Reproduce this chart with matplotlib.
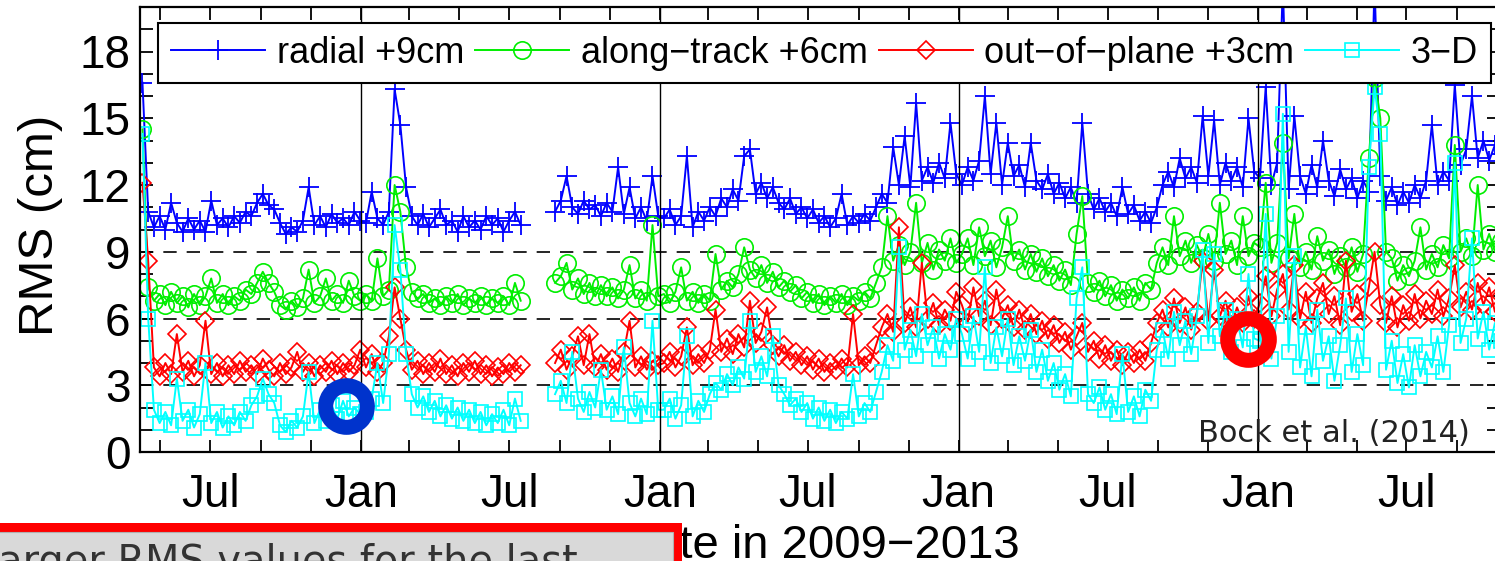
import numpy as np
import pandas as pd
import matplotlib
matplotlib.use('Agg')
import matplotlib.pyplot as plt
import matplotlib.dates as mdates
from matplotlib.patches import Rectangle

NA = np.nan

# weekly samples of the orbit RMS (cm), first sample 9 Apr 2009
dates = pd.date_range('2009-04-09', periods=238, freq='7D')

radial = [
    # 2009
    16.6, 10.8, 10.1, 10.6, 10.0, 11.2, 10.3, 9.9, 10.5, 10.0, 10.4, 9.9, 11.3,
    10.2, 10.5, 10.1, 10.6, 10.3, 10.8, 10.6, 11.2, 11.6, 11.1, 10.9, 10.3, 9.8,
    10.1, 9.9, 10.4, 11.9, 10.2, 10.6, 10.1, 10.7, 10.3, 10.5, 10.2, 10.8, 10.4,
    # 2010
    10.3, 11.7, 10.5, 10.2, 10.8, 16.3, 14.7, 11.9, 10.6, 10.2, 10.7, 10.1, 10.5,
    10.9, 10.2, 10.4, 9.9, 10.6, 10.1, 10.4, 10.0, 10.6, 10.2, 10.5, 9.9, 10.4,
    10.8, 10.2, NA, NA, NA, NA, NA,
    10.8, 11.3, 12.4, 11.0, 10.7, 11.3, 10.9, 11.1, 10.6, 11.2, 10.8, 12.8, 10.7,
    11.9, 10.5, 11.0, 10.4, 12.4, 10.6,
    # 2011
    10.5, 10.9, 10.2, 10.6, 13.3, 10.1, 10.8, 10.4, 11.0, 10.6, 11.4, 11.0, 11.8,
    11.3, 13.3, 13.6, 11.6, 12.1, 11.4, 11.9, 11.2, 10.9, 11.4, 10.7, 11.0, 10.5,
    10.9, 10.3, 10.6, 10.1, 10.5, 11.6, 10.2, 10.6, 10.3, 10.7, 10.4, 11.0, 11.6,
    11.2, 13.7, 12.0, 14.2, 11.9, 15.7, 12.2, 12.8, 12.1, 13.0, 12.3, 14.8, 12.5,
    # 2012
    12.0, 12.8, 12.2, 13.1, 16.0, 12.5, 14.8, 12.0, 13.9, 12.4, 12.9, 11.9, 13.9,
    12.2, 11.8, 12.5, 11.6, 12.1, 11.4, 11.9, 11.2, 14.8, 11.6, 10.9, 11.4, 10.8,
    11.2, 10.6, 11.9, 10.7, 11.1, 10.4, 10.8, 10.3, 11.0, 12.0, 12.6, 11.9, 13.2,
    12.3, 12.8, 12.1, 15.1, 12.4, 14.9, 12.0, 13.0, 12.2, 12.8, 11.9, 15.0, 12.6,
    # 2013
    12.3, 16.4, 12.0, 13.0, 21.0, 11.8, 15.1, 12.4, 11.6, 12.9, 11.9, 14.0, 12.2,
    11.5, 12.7, 11.8, 12.3, 11.4, 12.2, 11.7, 21.0, 12.4, 11.3, 11.9, 11.1, 11.7,
    11.2, 12.0, 11.4, 12.2, 14.7, 12.0, 12.6, 12.2, 16.5, 12.9, 13.6, 16.0, 13.2,
    14.0, 13.1, 13.8, 13.4,
]

along_track = [
    # 2009
    14.5, 7.4, 6.8, 7.1, 6.6, 7.2, 6.7, 7.0, 6.5, 7.1, 6.6, 7.0, 7.8,
    6.7, 7.1, 6.6, 7.0, 6.8, 7.3, 7.1, 7.6, 8.1, 7.6, 7.2, 6.6, 6.4,
    6.8, 6.5, 6.9, 8.2, 6.7, 7.0, 7.8, 6.8, 7.1, 6.7, 7.7, 7.0, 6.8,
    # 2010
    7.1, 6.8, 8.7, 7.0, 7.3, 12.0, 10.8, 8.3, 7.2, 6.9, 7.1, 6.7, 6.9,
    6.6, 7.0, 6.7, 7.1, 6.6, 6.9, 6.7, 7.0, 6.6, 6.9, 6.7, 7.0, 6.6,
    7.6, 6.8, NA, NA, NA, NA, NA,
    7.6, 7.9, 8.5, 7.3, 7.8, 7.1, 7.6, 7.0, 7.5, 7.0, 7.4, 6.9, 7.3,
    8.4, 6.9, 7.3, 6.8, 10.2, 7.0,
    # 2011
    7.1, 6.7, 7.2, 8.3, 6.8, 7.2, 6.7, 7.1, 6.8, 8.9, 7.3, 7.7, 7.4,
    8.0, 9.2, 8.2, 7.8, 8.4, 7.6, 8.1, 7.4, 7.7, 7.2, 7.5, 6.9, 7.2,
    6.7, 7.1, 6.6, 7.0, 6.7, 7.1, 6.6, 7.0, 6.8, 7.2, 6.9, 7.6, 8.3,
    10.6, 8.6, 9.3, 8.4, 9.0, 11.2, 8.5, 9.4, 8.2, 9.1, 8.6, 9.6, 8.5,
    # 2012
    8.9, 9.6, 8.4, 10.1, 8.8, 9.5, 8.3, 9.2, 10.6, 8.6, 9.1, 8.2, 8.9,
    8.1, 8.7, 7.9, 8.4, 7.7, 8.2, 7.5, 9.8, 11.5, 7.6, 7.2, 7.7, 7.0,
    7.5, 6.8, 7.3, 6.9, 7.4, 6.8, 7.6, 7.3, 8.5, 9.2, 8.4, 10.6, 8.8,
    9.5, 8.5, 9.3, 8.7, 9.8, 8.6, 11.2, 8.9, 9.5, 8.4, 10.6, 8.8, 9.4,
    # 2013
    9.2, 12.1, 8.5, 9.4, 13.9, 8.7, 10.7, 8.3, 9.0, 8.2, 9.7, 8.6, 9.1,
    8.0, 8.8, 8.3, 9.2, 8.1, 8.9, 13.2, 16.8, 15.0, 9.0, 8.7, 7.7, 8.4,
    7.9, 8.6, 10.1, 8.2, 8.9, 8.3, 9.3, 8.7, 13.8, 9.0, 9.6, 8.8, 12.0,
    9.1, 9.8, 9.0, 9.5,
]

out_of_plane = [
    # 2009
    12.1, 8.6, 3.8, 3.4, 4.0, 3.5, 5.3, 3.6, 4.1, 3.4, 3.9, 5.9, 3.5,
    4.0, 3.4, 3.9, 3.5, 4.1, 3.6, 3.9, 3.5, 4.2, 3.7, 3.4, 4.0, 3.5,
    3.8, 4.5, 3.6, 4.0, 3.4, 3.9, 3.6, 4.1, 3.5, 4.0, 3.6, 3.9, 4.6,
    # 2010
    3.8, 4.4, 3.6, 4.0, 5.2, 7.4, 6.0, 4.6, 3.7, 4.1, 3.5, 4.0, 3.6,
    4.2, 3.5, 3.9, 3.4, 4.0, 3.6, 4.1, 3.5, 3.9, 3.4, 3.8, 3.5, 4.0,
    3.6, 3.9, NA, NA, NA, NA, NA,
    4.0, 4.6, 3.7, 4.3, 5.2, 3.9, 5.3, 3.8, 4.4, 3.7, 4.2, 3.6, 4.5,
    5.9, 3.8, 4.3, 3.7, 4.1, 3.9,
    # 2011
    4.0, 4.5, 3.8, 4.3, 5.6, 3.9, 4.4, 4.0, 4.6, 6.4, 4.5, 5.1, 4.4,
    5.3, 4.7, 6.8, 4.9, 5.4, 6.5, 4.8, 4.3, 4.8, 4.1, 4.5, 3.9, 4.3,
    3.7, 4.2, 3.6, 4.0, 3.7, 4.2, 3.8, 6.2, 3.9, 4.3, 4.0, 4.8, 5.6,
    6.2, 5.4, 10.1, 5.8, 6.5, 5.6, 8.5, 6.0, 6.7, 5.7, 6.4, 5.9, 7.2,
    # 2012
    6.6, 5.8, 7.4, 6.1, 6.8, 5.7, 7.3, 6.0, 6.6, 5.6, 6.4, 5.5, 6.2,
    5.3, 5.9, 5.1, 5.7, 4.9, 5.4, 4.6, 5.2, 5.8, 4.5, 5.0, 4.2, 4.8,
    4.1, 4.6, 3.9, 4.5, 4.0, 4.6, 4.1, 4.9, 5.8, 6.4, 5.6, 6.9, 5.8,
    6.5, 5.5, 6.3, 8.6, 5.9, 8.2, 6.1, 6.8, 5.7, 6.5, 5.8, 7.0, 6.0,
    # 2013
    6.7, 7.9, 6.1, 7.3, 8.0, 6.4, 8.4, 6.0, 7.2, 5.8, 6.9, 7.6, 6.2,
    7.0, 5.7, 8.6, 6.3, 7.1, 5.9, 7.4, 9.0, 6.6, 5.8, 7.0, 5.6, 6.6,
    5.9, 7.1, 6.0, 6.8, 6.2, 7.3, 6.1, 6.9, 8.4, 6.5, 7.2, 6.4, 7.6,
    6.6, 7.4, 6.3, 7.0,
]

three_d = [
    # 2009
    14.3, 6.0, 1.9, 1.3, 1.8, 1.2, 3.3, 1.4, 1.9, 1.1, 1.7, 4.0, 1.3,
    1.8, 1.1, 1.6, 1.2, 1.8, 1.4, 2.1, 2.5, 3.3, 2.6, 2.2, 1.2, 0.9,
    1.4, 1.1, 1.6, 3.6, 1.3, 1.9, 1.4, 2.1, 1.5, 2.3, 1.6, 2.0, 1.7,
    # 2010
    1.8, 2.4, 4.0, 2.2, 4.4, 10.2, 8.2, 4.4, 2.6, 2.0, 2.5, 1.8, 2.3,
    1.6, 2.1, 1.5, 2.0, 1.4, 1.9, 1.3, 1.8, 1.2, 1.7, 1.3, 1.9, 1.2,
    2.4, 1.4, NA, NA, NA, NA, NA,
    2.6, 3.2, 2.2, 4.5, 2.4, 1.8, 2.7, 2.0, 3.7, 1.9, 2.5, 1.7, 4.7,
    2.2, 1.6, 2.4, 1.7, 5.9, 1.9,
    # 2011
    1.9, 2.4, 1.5, 2.1, 5.2, 1.6, 2.3, 1.8, 2.6, 3.1, 2.8, 3.5, 3.0,
    3.8, 3.3, 5.9, 3.6, 4.3, 3.4, 5.2, 3.0, 2.6, 2.1, 2.4, 1.8, 2.2,
    1.5, 2.0, 1.4, 1.9, 1.3, 1.8, 1.5, 3.5, 1.6, 2.2, 1.8, 2.7, 3.6,
    4.8, 4.1, 9.2, 4.6, 5.5, 4.3, 6.2, 4.8, 5.6, 4.2, 5.3, 4.6, 6.0,
    # 2012
    5.3, 4.2, 6.1, 4.5, 8.3, 4.0, 5.6, 4.3, 6.0, 3.9, 5.2, 4.1, 5.5,
    3.6, 4.6, 3.2, 4.0, 2.8, 3.5, 2.5, 6.9, 8.3, 2.6, 2.2, 2.9, 1.9,
    2.6, 1.7, 4.4, 1.8, 2.5, 1.6, 2.8, 2.3, 4.6, 5.5, 4.2, 6.3, 4.8,
    5.9, 4.4, 6.1, 9.1, 4.9, 8.9, 5.2, 6.4, 4.5, 6.0, 4.7, 8.0, 5.1,
    # 2013
    5.0, 10.7, 4.2, 6.1, 15.2, 4.5, 8.8, 3.8, 5.6, 3.4, 6.4, 4.1, 5.2,
    3.2, 4.8, 6.9, 3.6, 5.3, 3.9, 12.8, 16.4, 14.3, 3.7, 5.0, 3.1, 4.4,
    2.9, 4.8, 3.4, 4.5, 3.8, 5.2, 3.6, 5.7, 13.0, 4.9, 6.0, 9.6, 5.1,
    6.3, 4.6, 5.8, 5.0,
]

labels = ['radial +9cm', 'along\u2212track +6cm', 'out\u2212of\u2212plane +3cm', '3\u2212D']

# highlighted epochs
ring_dates = pd.to_datetime(['2009-12-14', '2012-12-19'])
ring_values = [2.05, 5.1]
ring_colors = ['#0033cc', '#ff0000']

W, H = 1495, 561
plt.rcParams['font.family'] = ['Liberation Sans', 'DejaVu Sans']

fig = plt.figure(figsize=(W / 100, H / 100), dpi=100)
ax = fig.add_axes([140 / W, 1 - 452 / H, (1499 - 140) / W, (452 - 7) / H])

styles = [
    dict(color='#0000ff', marker='+', ms=14, mew=1.3),
    dict(color='#00ee00', marker='o', ms=12.5, mew=1.2, mfc='none'),
    dict(color='#ff0000', marker='D', ms=8.8, mew=1.2, mfc='none'),
    dict(color='#00ffff', marker='s', ms=10.5, mew=1.2, mfc='none'),
]
series = [radial, along_track, out_of_plane, three_d]
for vals, lab, st in zip(series, labels, styles):
    assert len(vals) == len(dates)
    ax.plot(dates, vals, lw=1.4, label=lab, **st)

# offset baselines and year boundaries
for y in [3, 6, 9]:
    ax.axhline(y, color='k', lw=1.2, ls=(0, (8, 6)), zorder=1)
for yr in [2010, 2011, 2012, 2013]:
    ax.axvline(pd.Timestamp(f'{yr}-01-01'), color='k', lw=1.0, zorder=3)

for d, v, c in zip(ring_dates, ring_values, ring_colors):
    ax.plot([d], [v], 'o', ms=30, mfc='none', mec=c, mew=10.8, zorder=4)

ax.set_xlim(pd.Timestamp('2009-04-06'), pd.Timestamp('2013-10-22'))
ax.set_ylim(0, 20)
ax.set_yticks(range(0, 19, 3))
ax.set_yticks(range(0, 21), minor=True)
ax.xaxis.set_major_locator(mdates.MonthLocator(bymonth=[1, 7]))
ax.xaxis.set_minor_locator(mdates.MonthLocator(bymonth=[3, 5, 9, 11]))
ax.xaxis.set_major_formatter(mdates.DateFormatter('%b'))
ax.tick_params(which='both', direction='in', length=9, width=1.3,
               top=True, right=True, labelsize=33)
ax.tick_params(axis='x', pad=15)
ax.tick_params(axis='y', pad=7)
for s in ax.spines.values():
    s.set_linewidth(1.6)

ax.set_ylabel('RMS (cm)', fontsize=35.5)
ax.yaxis.set_label_coords(-0.0567, 0.51)
ax.set_xlabel('Date in 2009\u22122013', fontsize=34, va='top')
ax.xaxis.set_label_coords(0.5, -0.162)

leg = ax.legend(loc='upper right', ncol=4, fontsize=26, frameon=True, fancybox=False,
                edgecolor='k', framealpha=1, borderpad=0.35, handlelength=2.6,
                handletextpad=0.33, columnspacing=0.3, borderaxespad=0,
                bbox_to_anchor=(1491 / W, 1 - 23 / H), bbox_transform=fig.transFigure)
leg.get_frame().set_linewidth(1.5)
leg.set_zorder(5)

fig.text(1198 / W, 1 - 442 / H, 'Bock et al. (2014)', fontsize=22, color='#222222',
         family='DejaVu Sans', va='baseline', ha='left', zorder=6)

# callout box at the lower left
fig.add_artist(Rectangle((-10 / W, 1 - 600 / H), 692 / W, (600 - 523) / H,
                         transform=fig.transFigure, facecolor='#ff0000',
                         edgecolor='none', zorder=7))
fig.add_artist(Rectangle((-10 / W, 1 - 600 / H), 683 / W, (600 - 532) / H,
                         transform=fig.transFigure, facecolor='#d9d9d9',
                         edgecolor='#b0b0b0', lw=0.8, zorder=8))
fig.text(-24 / W, 1 - 574 / H, 'Larger RMS values for the last', fontsize=28.7,
         color='#333333', family='DejaVu Sans', va='baseline', ha='left', zorder=9)

fig.savefig('out.png', dpi=100)
